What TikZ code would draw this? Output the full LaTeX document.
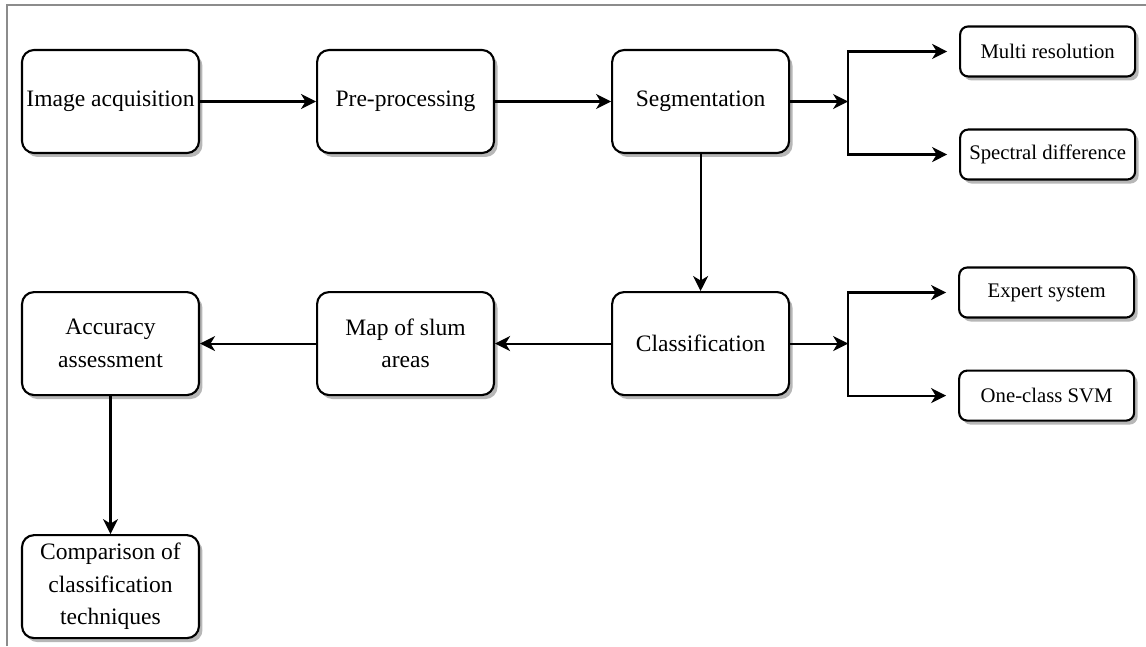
\documentclass[tikz,border=0pt]{standalone}
\usepackage{fontspec}
\setmainfont{Liberation Serif}
\usetikzlibrary{arrows.meta, positioning, shadows}
\tikzset{
  caja/.style={rectangle, rounded corners=0.24cm, draw=black, line width=1.2pt,
               fill=white, minimum width=3.54cm, minimum height=2.06cm,
               align=center, inner sep=1pt,
               font=\fontsize{13.4}{18.5}\selectfont,
               drop shadow={shadow xshift=0.7mm, shadow yshift=-0.8mm,
                            fill=black!40, opacity=0.7}},
  cajita/.style={caja, rounded corners=0.16cm, minimum width=3.5cm,
                 minimum height=1cm, font=\fontsize{11.8}{14}\selectfont},
  flecha/.style={-{Stealth[length=3mm, width=3mm, inset=0.9mm]}, line width=1.2pt}
}

\begin{document}
\begin{tikzpicture}[
  x=0.02cm, y=0.02cm,
  marco/.style={draw=black!45, line width=1.3pt},
  rama/.style={flecha, shorten >=0.24cm}
]
  \useasboundingbox (0,0) rectangle (1146,-646);
  % ── Marco ──
  \draw[marco] (7,-646) -- (7,-5) -- (1146,-5);

  % ── Fila superior ──
  \node[caja] (adq) at (110.5,-101.5) {Image acquisition};
  \node[caja, right=2.32cm of adq]  (pre)  {Pre-processing};
  \node[caja, right=2.32cm of pre]  (seg)  {Segmentation};

  % ── Fila inferior ──
  \node[caja, below=2.74cm of seg]  (clas) {Classification};
  \node[caja, left=2.32cm of clas]  (mapa) {Map of slum\\areas};
  \node[caja, left=2.32cm of mapa]  (prec) {Accuracy\\assessment};
  \node[caja, below=2.76cm of prec] (comp)
        {Comparison of\\classification\\techniques};

  % ── Métodos ──
  \node[cajita, above right=0.48cm and 3.38cm of seg.east]  (multi) {Multi resolution};
  \node[cajita, below right=0.54cm and 3.38cm of seg.east]  (espec) {Spectral difference};
  \node[cajita, above right=0.50cm and 3.36cm of clas.east] (exp)   {Expert system};
  \node[cajita, below right=0.52cm and 3.36cm of clas.east] (svm)   {One-class SVM};

  \coordinate[right=1.16cm of seg]  (segfork);
  \coordinate[right=1.16cm of clas] (clasfork);

  % ── Flechas ──
  \draw[flecha] (adq)  -- (pre);
  \draw[flecha] (pre)  -- (seg);
  \draw[flecha] (seg)  -- (clas);
  \draw[flecha] (clas) -- (mapa);
  \draw[flecha] (mapa) -- (prec);
  \draw[flecha] (prec) -- (comp);

  \draw[flecha] (seg) -- (segfork);
  \draw[rama] (segfork) |- (multi);
  \draw[rama] (segfork) |- (espec);
  \draw[flecha] (clas) -- (clasfork);
  \draw[rama] (clasfork) |- (exp);
  \draw[rama] (clasfork) |- (svm);
\end{tikzpicture}
\end{document}
